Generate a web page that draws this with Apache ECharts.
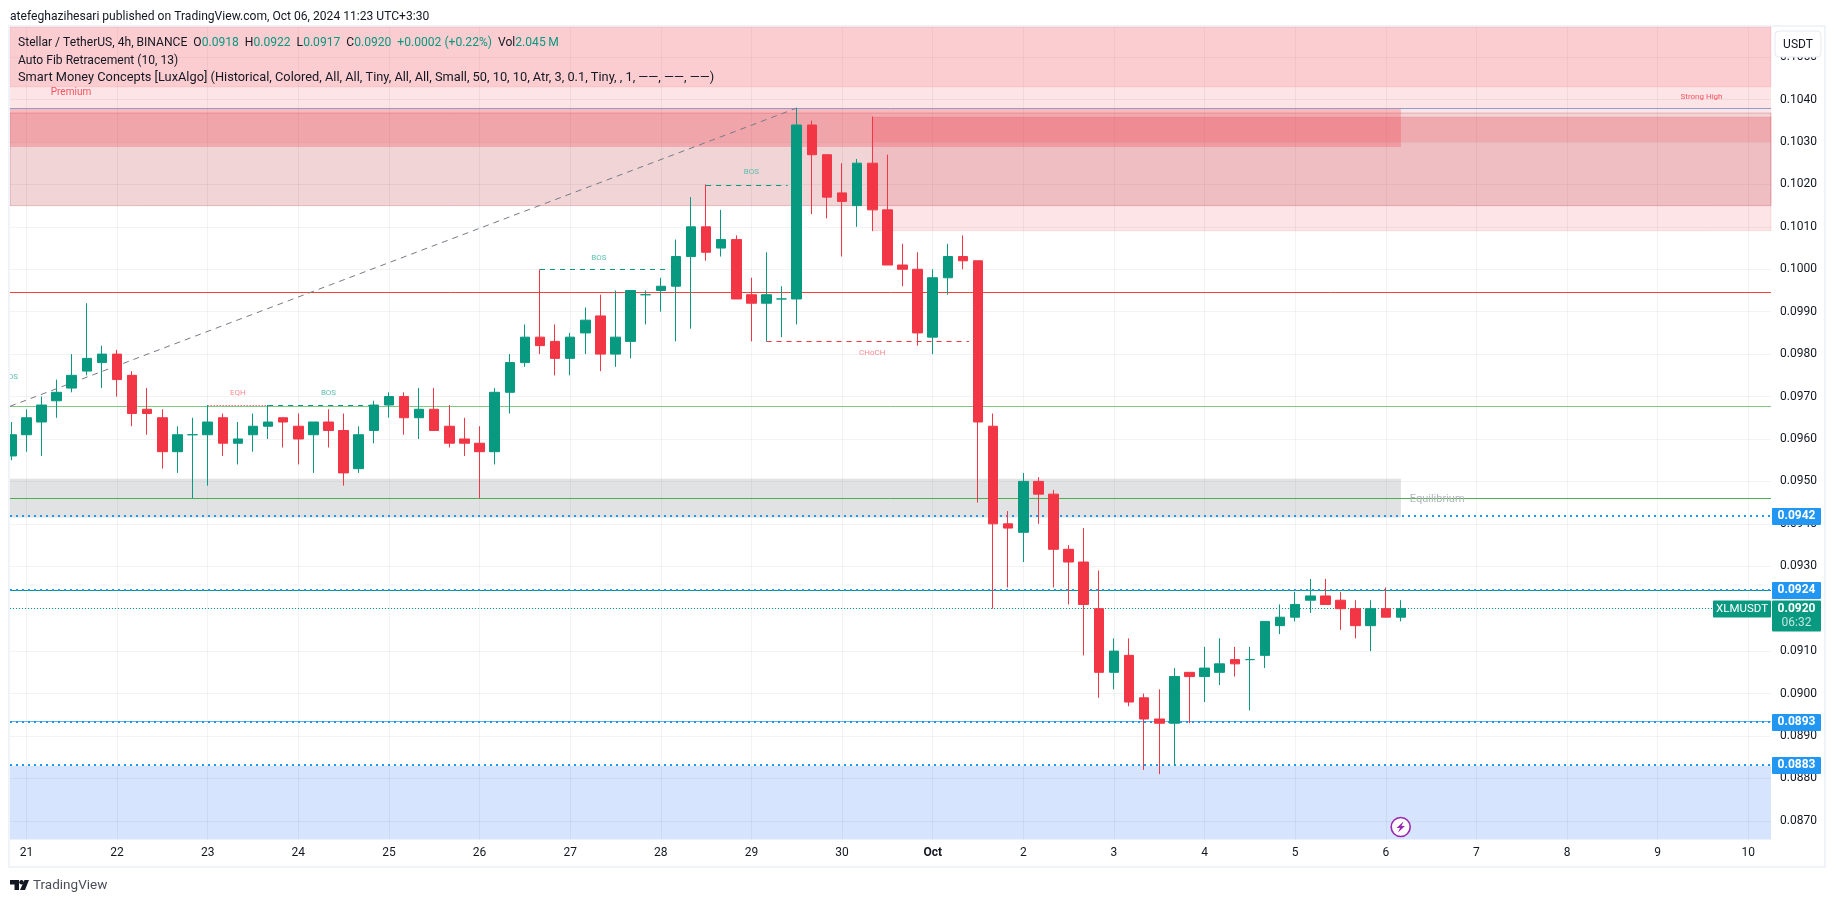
<!DOCTYPE html>
<html>
<head>
<meta charset="utf-8">
<title>XLMUSDT</title>
<script src="https://cdn.jsdelivr.net/npm/echarts@6/dist/echarts.min.js"></script>
<style>
html, body { margin: 0; padding: 0; background: #fff; }
#chart { width: 1835px; height: 903px; }
</style>
</head>
<body>
<div id="chart"></div>
<script>
// 4h bars, bar 0 is Sep 21 00:00, so the first one is cut at the left edge
const firstBar = -1;
const opens = [0.0956,0.0961,0.0964,0.0969,0.0972,0.0976,0.0978,0.0980,0.0975,0.0967,0.0965,0.0957,0.0961,0.0961,0.0965,0.0959,0.0961,0.0963,0.0965,0.0963,0.0961,0.0964,0.0962,0.0953,0.0962,0.0968,0.0970,0.0965,0.0967,0.0963,0.0960,0.0959,0.0957,0.0971,0.0978,0.0984,0.0983,0.0979,0.0985,0.0989,0.0980,0.0983,0.0994,0.0995,0.0996,0.1003,0.1010,0.1005,0.1007,0.0994,0.0992,0.0993,0.0993,0.1034,0.1027,0.1018,0.1015,0.1025,0.1014,0.1001,0.1000,0.0984,0.0998,0.1003,0.1002,0.0963,0.0940,0.0938,0.0950,0.0947,0.0934,0.0931,0.0920,0.0905,0.0909,0.0899,0.0894,0.0893,0.0905,0.0904,0.0905,0.0908,0.0908,0.0909,0.0916,0.0918,0.0922,0.0923,0.0922,0.0920,0.0916,0.0920,0.0918];
const closes = [0.0961,0.0965,0.0968,0.0971,0.0975,0.0979,0.0980,0.0974,0.0966,0.0966,0.0957,0.0961,0.0961,0.0964,0.0959,0.0960,0.0963,0.0964,0.0964,0.0960,0.0964,0.0962,0.0952,0.0961,0.0968,0.0970,0.0965,0.0967,0.0962,0.0959,0.0959,0.0957,0.0971,0.0978,0.0984,0.0982,0.0979,0.0984,0.0988,0.0980,0.0984,0.0995,0.0994,0.0996,0.1003,0.1010,0.1004,0.1007,0.0993,0.0992,0.0994,0.0993,0.1034,0.1027,0.1017,0.1016,0.1025,0.1014,0.1001,0.1000,0.0985,0.0998,0.1003,0.1002,0.0964,0.0940,0.0939,0.0950,0.0947,0.0934,0.0931,0.0921,0.0905,0.0910,0.0898,0.0894,0.0893,0.0904,0.0904,0.0906,0.0907,0.0907,0.0908,0.0917,0.0918,0.0921,0.0923,0.0921,0.0920,0.0916,0.0920,0.0918,0.0920];
const highs = [0.0964,0.0967,0.0970,0.0974,0.0980,0.0992,0.0982,0.0981,0.0976,0.0972,0.0967,0.0963,0.0965,0.0968,0.0966,0.0964,0.0966,0.0968,0.0965,0.0966,0.0964,0.0967,0.0966,0.0963,0.0969,0.0971,0.0971,0.0972,0.0972,0.0968,0.0965,0.0963,0.0972,0.0980,0.0987,0.1000,0.0987,0.0985,0.0991,0.0994,0.0995,0.0995,0.0995,0.0998,0.1007,0.1017,0.1020,0.1014,0.1008,0.0998,0.1004,0.0996,0.1038,0.1035,0.1027,0.1025,0.1026,0.1036,0.1027,0.1006,0.1004,0.1000,0.1006,0.1008,0.1002,0.0966,0.0943,0.0952,0.0951,0.0948,0.0935,0.0939,0.0929,0.0913,0.0913,0.0900,0.0901,0.0906,0.0905,0.0911,0.0913,0.0911,0.0911,0.0917,0.0921,0.0924,0.0927,0.0927,0.0924,0.0922,0.0922,0.0925,0.0922];
const lows = [0.0955,0.0957,0.0956,0.0965,0.0971,0.0975,0.0972,0.0970,0.0963,0.0961,0.0953,0.0952,0.0946,0.0949,0.0956,0.0954,0.0957,0.0960,0.0958,0.0954,0.0952,0.0958,0.0949,0.0952,0.0959,0.0965,0.0961,0.0960,0.0962,0.0958,0.0956,0.0946,0.0954,0.0966,0.0977,0.0980,0.0975,0.0975,0.0980,0.0976,0.0977,0.0979,0.0987,0.0990,0.0983,0.0986,0.1002,0.1003,0.0993,0.0983,0.0983,0.0984,0.0987,0.1013,0.1012,0.1003,0.1010,0.1009,0.1001,0.0996,0.0982,0.0980,0.0994,0.1000,0.0945,0.0920,0.0925,0.0931,0.0940,0.0925,0.0921,0.0909,0.0899,0.0901,0.0897,0.0882,0.0881,0.0883,0.0893,0.0898,0.0902,0.0904,0.0896,0.0906,0.0914,0.0917,0.0919,0.0921,0.0915,0.0913,0.0910,0.0918,0.0917];

const dayTicks = [0,6,12,18,24,30,36,42,48,54,60,66,72,78,84,90,96,102,108,114];
const dayLabels = ['21','22','23','24','25','26','27','28','29','30','Oct','2','3','4','5','6','7','8','9','10'];
const priceTicks = [0.0870,0.0880,0.0890,0.0900,0.0910,0.0920,0.0930,0.0940,0.0950,0.0960,0.0970,0.0980,0.0990,0.1000,0.1010,0.1020,0.1030,0.1040,0.1050];

// price levels drawn across the whole chart
const fibHigh = 0.103789;
const resistanceLevel = 0.099452;
const fibLow = 0.096766;
const equilibriumLevel = 0.094597;
const tealLevel = 0.092429;
const lightBlueLevel = 0.089341;
const lastPrice = 0.092005;

// tags on the price scale
const alertPrices = [0.094185, 0.092441, 0.08933, 0.088316];

// dashed structure lines, [startBar, endBar, price]
const bosLines = [[-1.1, 3, 0.09719], [16, 23, 0.096789], [34, 42.3, 0.099995], [45, 50.4, 0.101974]];
const eqhLine = [12, 16, 0.096789];
const chochLine = [49, 62.4, 0.098298];
const trendLine = [[-1.086, 0.09677], [51, 0.1038]];

const noteTexts = ['OS', 'EQH', 'BOS', 'BOS', 'BOS', 'CHoCH', 'Premium', 'Strong High', 'Equilibrium'];
const noteBars = [-0.9, 14, 20, 37.9, 48, 56, 2.95, 110.9, 93.4];
const notePrices = [0.09747, 0.09709, 0.09709, 0.10027, 0.10229, 0.09802, 0.10416, 0.10407, 0.09459];

const xMin = -1.086;
const xMax = 115.5;
const yMin = 0.08656;
const yMax = 0.10571;

const upColor = '#089981';
const downColor = '#f23645';
const tagBlue = '#2196f3';
const font = 'Roboto, sans-serif';
const legendFont = '12.1px ' + font;

const candles = opens.map((o, i) => [firstBar + i, o, closes[i], lows[i], highs[i]]);

function zone(x0, x1, top, bottom, color, border) {
  return [
    {coord: [x0, top], itemStyle: {color: color, borderColor: border || 'transparent', borderWidth: border ? 1 : 0}},
    {coord: [x1, bottom]}
  ];
}

// yAxis-only markLine data gets rounded on this range, so levels are two coord points
function level(price, color, width, type) {
  return [
    {coord: [xMin, price], lineStyle: {color: color, width: width, type: type}},
    {coord: [xMax, price]}
  ];
}

function segment(line, color, type) {
  return [
    {coord: [line[0], line[2]], lineStyle: {color: color, width: 1, type: type}},
    {coord: [line[1], line[2]]}
  ];
}

function noteColor(text) {
  if (text === 'Equilibrium') return '#b2b5be';
  if (text === 'Premium' || text === 'Strong High') return '#f7525f';
  if (text === 'EQH' || text === 'CHoCH') return '#f88a92';
  return '#5bbfae';
}

function noteSize(text) {
  if (text === 'Equilibrium') return 11;
  if (text === 'Premium') return 10;
  return 8;
}

const myChart = echarts.init(document.getElementById('chart'), null, {renderer: 'canvas'});

const option = {
  animation: false,
  backgroundColor: '#fff',
  textStyle: {fontFamily: font},
  grid: {left: 10, top: 27, width: 1761, height: 812.5, containLabel: false},
  xAxis: {
    type: 'value',
    min: xMin,
    max: xMax,
    axisLine: {show: false},
    axisTick: {show: false, customValues: dayTicks},
    splitLine: {show: true, lineStyle: {color: 'rgba(42,46,57,0.06)'}},
    axisLabel: {
      customValues: dayTicks,
      margin: 7,
      color: '#131722',
      fontSize: 12,
      fontFamily: font,
      formatter: function (v) {
        const label = dayLabels[dayTicks.indexOf(v)];
        return label === 'Oct' ? '{month|Oct}' : label;
      },
      rich: {month: {fontWeight: 'bold', fontSize: 12, fontFamily: font, color: '#131722'}}
    }
  },
  yAxis: {
    type: 'value',
    position: 'right',
    min: yMin,
    max: yMax,
    axisLine: {show: false},
    axisTick: {show: false, customValues: priceTicks},
    splitLine: {show: true, lineStyle: {color: 'rgba(42,46,57,0.06)'}},
    axisLabel: {
      customValues: priceTicks,
      margin: 9,
      color: '#131722',
      fontSize: 12,
      fontFamily: font,
      formatter: function (v) { return v.toFixed(4); }
    }
  },
  graphic: [
    {type: 'rect', z: -1, silent: true, shape: {x: 9, y: 26, width: 1816, height: 841}, style: {fill: 'none', stroke: '#f0f3fa', lineWidth: 2}},
    // candlestick boxes are not cut at the grid edge, so the first bar is masked here
    {type: 'rect', z: 10, silent: true, shape: {x: 0, y: 27, width: 8, height: 813}, style: {fill: '#fff'}},
    {type: 'rect', z: 10, silent: true, shape: {x: 8, y: 27, width: 2, height: 813}, style: {fill: '#f0f3fa'}},
    {type: 'text', z: 20, x: 10, y: 16.5, style: {text: 'atefeghazihesari published on TradingView.com, Oct 06, 2024 11:23 UTC+3:30', fill: '#131722', font: legendFont, verticalAlign: 'middle'}},
    {type: 'text', z: 20, x: 18, y: 43, style: {
      text: 'Stellar / TetherUS, 4h, BINANCE  {k|O}{v|0.0918}  {k|H}{v|0.0922}  {k|L}{v|0.0917}  {k|C}{v|0.0920}  {v|+0.0002 (+0.22%)}  {k|Vol}{v|2.045\u2009M}',
      fill: '#131722', font: legendFont, verticalAlign: 'middle',
      rich: {k: {fill: '#131722', font: legendFont}, v: {fill: upColor, font: legendFont}}
    }},
    {type: 'text', z: 20, x: 18, y: 60.5, style: {text: 'Auto Fib Retracement (10, 13)', fill: '#131722', font: legendFont, verticalAlign: 'middle'}},
    {type: 'text', z: 20, x: 18, y: 77.5, style: {text: 'Smart Money Concepts [LuxAlgo] (Historical, Colored, All, All, Tiny, All, All, Small, 50, 10, 10, Atr, 3, 0.1, Tiny, , 1, \u2014\u2014, \u2014\u2014, \u2014\u2014)', fill: '#131722', font: '12.8px ' + font, verticalAlign: 'middle'}},
    // currency button over the price scale
    {type: 'rect', z: 20, shape: {x: 1775, y: 31, width: 46, height: 26, r: 4}, style: {fill: '#fff', stroke: '#e8eaf2', lineWidth: 1}},
    {type: 'text', z: 21, x: 1798, y: 44.5, style: {text: 'USDT', fill: '#131722', font: '12px ' + font, align: 'center', verticalAlign: 'middle'}},
    // lightning badge
    {type: 'circle', z: 20, shape: {cx: 1400.7, cy: 827, r: 9.5}, style: {fill: '#fff', stroke: '#9c27b0', lineWidth: 1.6}},
    {type: 'polygon', z: 21, shape: {points: [[1403.5, 821.5], [1396.5, 828], [1400, 828], [1398, 832.5], [1405, 826], [1401.5, 826]]}, style: {fill: '#9c27b0'}},
    // footer logo
    {type: 'polygon', z: 20, shape: {points: [[10, 880], [19, 880], [19, 890], [14.5, 890], [14.5, 884.5], [10, 884.5]]}, style: {fill: '#131722'}},
    {type: 'circle', z: 20, shape: {cx: 21.5, cy: 882.2, r: 2.2}, style: {fill: '#131722'}},
    {type: 'polygon', z: 20, shape: {points: [[24.5, 880], [29, 880], [25, 890], [20, 890]]}, style: {fill: '#131722'}},
    {type: 'text', z: 20, x: 33, y: 886, style: {text: 'TradingView', fill: '#4a4e59', font: '13.5px ' + font, verticalAlign: 'middle'}}
  ],
  series: [
    {
      // zones and levels sit on an empty line series
      type: 'line',
      data: [],
      silent: true,
      markArea: {
        silent: true,
        z: 1,
        data: [
          zone(xMin, xMax, yMax, 0.1043, 'rgba(242,54,69,0.25)', 'rgba(242,54,69,0.12)'),
          zone(xMin, xMax, 0.1043, 0.10368, 'rgba(242,54,69,0.135)'),
          zone(56, xMax, 0.10359, 0.10091, 'rgba(242,54,69,0.135)', 'rgba(242,54,69,0.12)'),
          zone(xMin, xMax, 0.10368, 0.1015, 'rgba(178,40,51,0.2)', 'rgba(178,40,51,0.28)'),
          zone(56, xMax, 0.10359, 0.1030, 'rgba(242,54,69,0.146)'),
          zone(xMin, 56, 0.10368, 0.1030, 'rgba(242,54,69,0.05)'),
          zone(xMin, 91, 0.10378, 0.10288, 'rgba(242,54,69,0.26)'),
          zone(xMin, 91, 0.09506, 0.09415, 'rgba(120,123,134,0.22)'),
          zone(xMin, xMax, 0.0883, yMin, 'rgba(50,120,245,0.2)')
        ]
      },
      markLine: {
        silent: true,
        z: 3,
        symbol: 'none',
        label: {show: false},
        data: [
          level(fibHigh, '#8f9dc9', 1, 'solid'),
          level(resistanceLevel, '#f44336', 1, 'solid'),
          level(fibLow, '#81c784', 1, 'solid'),
          level(equilibriumLevel, '#4caf50', 1, 'solid'),
          level(tealLevel, '#089981', 1, 'solid'),
          level(lightBlueLevel, '#64b5f6', 1, 'solid'),
          level(alertPrices[0], tagBlue, 2, [2, 4]),
          level(alertPrices[1], tagBlue, 2, [2, 4]),
          level(alertPrices[2], tagBlue, 2, [2, 4]),
          level(alertPrices[3], tagBlue, 2, [2, 4]),
          level(lastPrice, upColor, 1, [1, 2]),
          [
            {coord: trendLine[0], lineStyle: {color: '#787b86', width: 1, type: [6, 5]}},
            {coord: trendLine[1]}
          ],
          segment(bosLines[0], upColor, [5, 5]),
          segment(bosLines[1], upColor, [5, 5]),
          segment(bosLines[2], upColor, [5, 5]),
          segment(bosLines[3], upColor, [5, 5]),
          segment(eqhLine, downColor, [1, 2]),
          segment(chochLine, downColor, [5, 5])
        ]
      }
    },
    {
      type: 'candlestick',
      z: 5,
      barWidth: 10,
      silent: true,
      data: candles,
      itemStyle: {
        color: upColor,
        color0: downColor,
        borderColor: upColor,
        borderColor0: downColor,
        borderColorDoji: upColor,
        borderWidth: 1
      }
    },
    {
      // small text notes
      type: 'custom',
      z: 6,
      silent: true,
      data: noteBars.map((b, i) => [b, notePrices[i]]),
      encode: {x: 0, y: 1},
      renderItem: function (params, api) {
        const p = api.coord([api.value(0), api.value(1)]);
        const text = noteTexts[params.dataIndex];
        return {
          type: 'text',
          x: p[0],
          y: p[1],
          style: {text: text, fill: noteColor(text), font: noteSize(text) + 'px ' + font, align: 'center', verticalAlign: 'middle'}
        };
      }
    },
    {
      // blue alert tags on the price scale
      type: 'custom',
      z: 7,
      silent: true,
      data: alertPrices.map(p => [xMax, p]),
      encode: {x: 0, y: 1},
      renderItem: function (params, api) {
        const p = api.coord([api.value(0), api.value(1)]);
        return {
          type: 'group',
          children: [
            {type: 'rect', shape: {x: p[0] + 1, y: p[1] - 8, width: 49, height: 17, r: 1}, style: {fill: tagBlue}},
            {type: 'text', x: p[0] + 25.5, y: p[1] + 0.5, style: {text: api.value(1).toFixed(4), fill: '#fff', font: 'bold 12px ' + font, align: 'center', verticalAlign: 'middle'}}
          ]
        };
      }
    },
    {
      // last price tag with the bar countdown and the symbol name
      type: 'custom',
      z: 7,
      silent: true,
      data: [[xMax, lastPrice]],
      encode: {x: 0, y: 1},
      renderItem: function (params, api) {
        const p = api.coord([api.value(0), api.value(1)]);
        return {
          type: 'group',
          children: [
            {type: 'rect', shape: {x: p[0] + 1, y: p[1] - 8, width: 49, height: 31, r: 1}, style: {fill: upColor}},
            {type: 'text', x: p[0] + 25.5, y: p[1] + 0.5, style: {text: api.value(1).toFixed(4), fill: '#fff', font: 'bold 12px ' + font, align: 'center', verticalAlign: 'middle'}},
            {type: 'text', x: p[0] + 25.5, y: p[1] + 15, style: {text: '06:32', fill: '#bfe6df', font: '12px ' + font, align: 'center', verticalAlign: 'middle'}},
            {type: 'rect', shape: {x: p[0] - 58, y: p[1] - 8, width: 58, height: 17, r: 1}, style: {fill: upColor}},
            {type: 'text', x: p[0] - 29, y: p[1] + 0.5, style: {text: 'XLMUSDT', fill: '#fff', font: '11.5px ' + font, align: 'center', verticalAlign: 'middle'}}
          ]
        };
      }
    }
  ]
};

option && myChart.setOption(option);
</script>
</body>
</html>
